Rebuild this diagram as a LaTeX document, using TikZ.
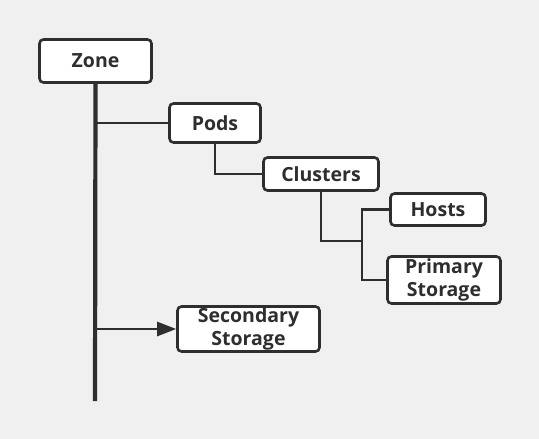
\documentclass[tikz,border=0pt]{standalone}
\usepackage{fontspec}
\setmainfont{Open Sans}
\usetikzlibrary{arrows.meta}
\tikzset{
	boxstyle/.style={rectangle,rounded corners=4pt,draw=black!82,line width=2.6pt,fill=white,
		text=black!82,font=\bfseries\fontsize{19.5}{22.5}\selectfont,align=center,inner sep=0pt},
	linkstyle/.style={draw=black!82,line width=2.6pt},
	trunkstyle/.style={draw=black!82,line width=4.2pt}
}

\begin{document}
\begin{tikzpicture}[x=1pt,y=-1pt]
	\useasboundingbox[fill=white!94!black] (0,0) rectangle (539,439);
	\node[boxstyle,minimum width=112,minimum height=43] (zone) at (95.5,61) {Zone};
	\node[boxstyle,minimum width=91,minimum height=39] (pods) at (215,123) {Pods};
	\node[boxstyle,minimum width=115,minimum height=33] (clusters) at (321,174) {Clusters};
	\node[boxstyle,minimum width=95,minimum height=32] (hosts) at (438,209.5) {Hosts};
	\node[boxstyle,minimum width=113,minimum height=47] (primary) at (444,280) {Primary\\Storage};
	\node[boxstyle,minimum width=142,minimum height=45] (secondary) at (248.5,329) {Secondary\\Storage};
	\coordinate (trunkend) at (95,401);
	\coordinate (fork) at (362,241);
	\draw[trunkstyle] (zone.south) -- (trunkend);
	\draw[linkstyle] (trunkend |- pods.west) -- (pods.west);
	\draw[linkstyle] (pods.south) |- (clusters.west);
	\draw[linkstyle] (clusters.south) |- (fork);
	\draw[linkstyle] (hosts.west) -| (fork) |- (primary.west);
	\draw[linkstyle,-{Triangle[length=19pt,width=14pt]}] (trunkend |- secondary.west) -- (secondary.west);
\end{tikzpicture}
\end{document}
